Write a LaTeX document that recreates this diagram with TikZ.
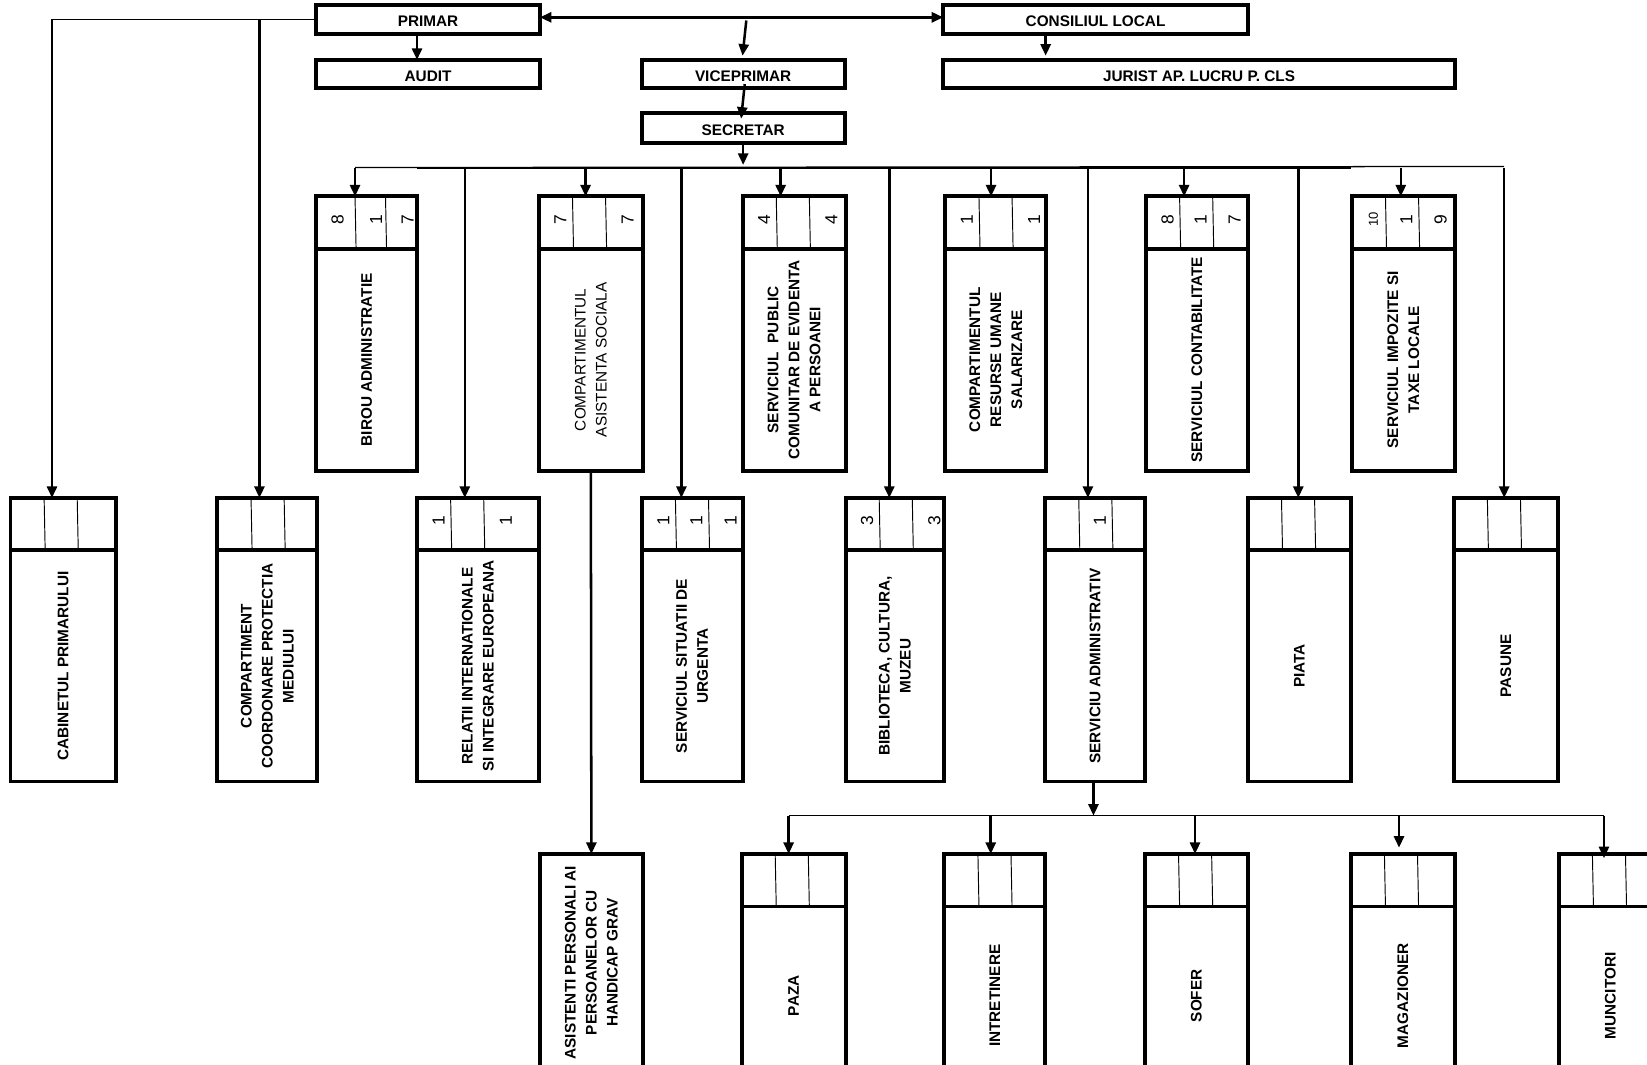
\documentclass[tikz,border=0pt]{standalone}
\usepackage{fontspec}
\setmainfont{Liberation Sans}
\usetikzlibrary{arrows.meta}
\def\orgdA{32}
\def\orgdB{63.5}
\def\orglblweight{\bfseries}
\tikzset{
  boxline/.style={line width=1.9pt},
  divline/.style={line width=0.45pt},
  conn/.style={line width=1.2pt},
  busline/.style={line width=1.3pt},
  thinconn/.style={line width=0.6pt},
  arr/.style={conn,-{Triangle[length=5.5pt,width=4.8pt]}},
  dblarr/.style={conn,{Triangle[length=5.5pt,width=4.8pt]}-{Triangle[length=5.5pt,width=4.8pt]}},
  lbl/.style={font=\fontsize{7.3}{10}\selectfont\orglblweight, align=center, inner sep=0pt},
  vlbl/.style={lbl, rotate=90},
  num/.style={font=\fontsize{8.3}{9}\selectfont, inner sep=0pt, rotate=90},
  orgbox/.style={draw, boxline, rectangle, inner sep=0pt, outer sep=0pt},
}
% name, x1, x2, ytop, ybot, text
\newcommand\topbox[6]{%
  \node[orgbox, minimum width={(#3-#2)*0.5pt}, minimum height={(#5-#4)*0.5pt}] (#1) at ({(#2+#3)/2},{(#4+#5)/2}) {};
  \node[lbl] (#1-lbl) at ([yshift=-1pt]#1.center) {#6};}
% name, x1, x2, ytop, ybot, n1, n2, n3, label
\newcommand\orgunit[9]{%
  \node[orgbox, minimum width={(#3-#2)*0.5pt}, minimum height={(#5-#4)*0.5pt}] (#1) at ({(#2+#3)/2},{(#4+#5)/2}) {};
  \draw[boxline] (#2,{#4+50}) -- (#3,{#4+50});
  \draw[divline] ({#2+\orgdA},#4) -- ({#2+\orgdA+1},{#4+50});
  \draw[divline] ({#2+\orgdB},#4) -- ({#2+\orgdB+1},{#4+50});
  \node[num] (#1-n1) at ({#2+20.5},{#4+22}) {#6};
  \node[num] (#1-n2) at ({#2+\orgdA+20},{#4+22}) {#7};
  \node[num] (#1-n3) at ({#2+\orgdB+21},{#4+22}) {#8};
  \node[vlbl] (#1-lbl) at ({(#2+#3)/2},{(#4+50+#5)/2}) {#9};}
% bus coordinate, node, xshift
\newcommand\drop[3]{%
  \coordinate (#2-in) at ([xshift=#3]#2.north);
  \draw[arr] (#2-in |- #1) -- (#2-in);}
\begin{document}
\begin{tikzpicture}[x=0.5pt,y=-0.5pt]
\useasboundingbox (0,0) rectangle (1568,1013);
\fill[white] (0,0) rectangle (1568,1013);
\clip (0,0) rectangle (1568,1013);

% top boxes
\topbox{primar}{301}{514}{5}{32}{PRIMAR}
\topbox{consiliu}{898}{1188}{5}{32}{CONSILIUL LOCAL}
\topbox{audit}{301}{514}{57}{84}{AUDIT}
\topbox{vice}{611}{804}{57}{84}{VICEPRIMAR}
\topbox{jurist}{898}{1385}{57}{84}{JURIST AP. LUCRU P. CLS}
\topbox{secretar}{611}{804}{108}{136}{SECRETAR}

% upper row
\def\orgdA{37}\def\orgdB{66}
\orgunit{birou}{301}{397}{187}{448}{8}{1}{7}{BIROU ADMINISTRATIE}
\def\orgdA{32}\def\orgdB{63.5}
\def\orglblweight{\mdseries}
\orgunit{asist}{513}{612}{187}{448}{7}{}{7}{COMPARTIMENTUL\\ASISTENTA SOCIALA}
\def\orglblweight{\bfseries}
\orgunit{spclep}{707}{805}{187}{448}{4}{}{4}{SERVICIUL~ PUBLIC\\COMUNITAR DE EVIDENTA\\A PERSOANEI}
\orgunit{resurse}{900}{996}{187}{448}{1}{}{1}{COMPARTIMENTUL\\RESURSE UMANE\\SALARIZARE}
\orgunit{contab}{1091}{1188}{187}{448}{8}{1}{7}{SERVICIUL CONTABILITATE}
\orgunit{impoz}{1287}{1385}{187}{448}{\fontsize{6.2}{7}\selectfont 10}{1}{9}{SERVICIUL IMPOZITE SI\\TAXE LOCALE}

% lower row
\orgunit{cabinet}{10}{110}{474}{744}{}{}{}{CABINETUL PRIMARULUI}
\orgunit{protectia}{207}{302}{474}{744}{}{}{}{COMPARTIMENT\\COORDONARE PROTECTIA\\MEDIULUI}
\orgunit{relatii}{397}{513}{474}{744}{1}{}{1}{RELATII INTERNATIONALE\\SI INTEGRARE EUROPEANA}
\orgunit{situatii}{611}{707}{474}{744}{1}{1}{1}{SERVICIUL SITUATII DE\\URGENTA}
\orgunit{biblio}{805}{899}{474}{744}{3}{}{3}{BIBLIOTECA, CULTURA,\\MUZEU}
\orgunit{admin}{995}{1090}{474}{744}{}{1}{}{SERVICIU ADMINISTRATIV}
\orgunit{piata}{1188}{1286}{474}{744}{}{}{}{PIATA}
\orgunit{pasune}{1384}{1483}{474}{744}{}{}{}{PASUNE}

% bottom row
\node[orgbox, minimum width={98*0.5pt}, minimum height={227*0.5pt}] (asistenti) at (563,926.5) {};
\node[vlbl] (asistenti-lbl) at ([yshift=5pt]asistenti.center) {ASISTENTI PERSONALI AI\\PERSOANELOR CU\\HANDICAP GRAV};
\orgunit{paza}{706}{805}{813}{1033}{}{}{}{PAZA}
\orgunit{intretinere}{899}{995}{813}{1033}{}{}{}{INTRETINERE}
\orgunit{sofer}{1090}{1188}{813}{1033}{}{}{}{SOFER}
\orgunit{magazioner}{1286}{1385}{813}{1033}{}{}{}{MAGAZIONER}
\orgunit{muncitori}{1484}{1582}{813}{1033}{}{}{}{MUNCITORI}

% top connectors
\draw[dblarr] ([yshift=1pt]primar.east) -- ([yshift=1pt]consiliu.west);
\coordinate (cabinet-in) at ([xshift=-5.25pt]cabinet.north);
\coordinate (protectia-in) at ([xshift=-3.75pt]protectia.north);
\draw[thinconn] (primar.west) -- (cabinet-in |- primar.west);
\draw[arr] (cabinet-in |- primar.west) -- (cabinet-in);
\draw[arr] (protectia-in |- primar.west) -- (protectia-in);
\coordinate (audit-in) at ([xshift=-5.25pt]audit.north);
\draw[arr] (audit-in |- primar.south) -- (audit-in);
\coordinate (jurist-in) at ([xshift=-23.75pt]consiliu.south);
\draw[arr, shorten >=2pt] (jurist-in) -- (jurist-in |- jurist.north);
\coordinate (vtop) at (710.5,19.5);
\coordinate (vice-in) at ([xshift=-0.5pt]vice.north);
\draw[arr, shorten >=2pt] (vtop) -- (vice-in);
\coordinate (vice-out) at ([xshift=0.75pt,yshift=2pt]vice.south);
\coordinate (secretar-in) at ([xshift=-0.7pt]secretar.north);
\draw[arr, shorten >=-2.5pt] (vice-out) -- (secretar-in);

% main bus
\coordinate (bus) at (707,160);
\coordinate (busL) at (338,159.5);
\coordinate (busR) at (1432,158.5);
\coordinate (busA) at (397,160);
\coordinate (busB) at (1286,160);
\draw[arr, shorten >=1.5pt] (secretar.south) -- (secretar.south |- bus);
\draw[thinconn] (busL) -- (busR);
\draw[busline] (busA) -- (busB);
\drop{bus}{birou}{-5.5pt}
\drop{bus}{asist}{-2.5pt}
\drop{bus}{spclep}{-6.4pt}
\drop{bus}{resurse}{-2.25pt}
\drop{bus}{contab}{-6.1pt}
\drop{bus}{impoz}{-1.2pt}
\drop{bus}{relatii}{-6.25pt}
\drop{bus}{situatii}{-5.15pt}
\drop{bus}{biblio}{-2.7pt}
\drop{bus}{admin}{-3.4pt}
\drop{bus}{piata}{-0.5pt}
\drop{bus}{pasune}{-0.75pt}

% asistenta -> asistenti
\draw[arr] (asist.south) -- (asistenti.north);

% bottom bus
\coordinate (bus2) at (1041,776.5);
\coordinate (admin-out) at ([xshift=-0.75pt]admin.south);
\draw[arr] (admin-out) -- (admin-out |- bus2);
\drop{bus2}{paza}{-2.35pt}
\drop{bus2}{intretinere}{-1.9pt}
\drop{bus2}{sofer}{-0.65pt}
\coordinate (magazioner-in) at ([xshift=-1.8pt]magazioner.north);
\draw[arr, shorten >=3pt] (magazioner-in |- bus2) -- (magazioner-in);
\coordinate (muncitori-in) at ([xshift=-3pt]muncitori.north);
\draw[arr, shorten >=-2pt] (muncitori-in |- bus2) -- (muncitori-in);
\draw[thinconn] (paza-in |- bus2) -- (muncitori-in |- bus2);
\end{tikzpicture}
\end{document}
